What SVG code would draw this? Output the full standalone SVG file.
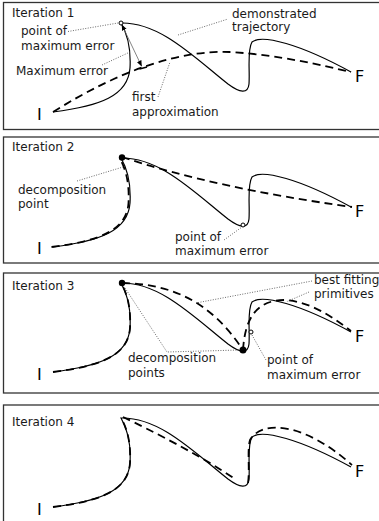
<svg xmlns="http://www.w3.org/2000/svg" width="379" height="521" viewBox="0 0 379 521">
<style>
.box{fill:#fff;stroke:#333;stroke-width:1.3}
.traj{fill:none;stroke:#000;stroke-width:1.2}
.dash{fill:none;stroke:#000;stroke-width:1.8;stroke-dasharray:8 5}
.lead{fill:none;stroke:#444;stroke-width:0.8;stroke-dasharray:1 1.5}
.lbl{font-family:"DejaVu Sans",sans-serif;font-size:12px;fill:#1a1a1a}
.big{font-family:"DejaVu Sans",sans-serif;font-size:16px;fill:#000}
</style>
<defs>
<path id="T" d="M53,112 C100,106 128,96 130,68 C131,50 128,35 121,23 C160,22 195,58 228,84 C240,93 248,94 249,84 C250,70 247,50 252,42 C262,34 300,44 351,72"/>
<path id="Tleft" d="M53,112 C100,106 128,96 130,68 C131,50 128,35 121,23"/>
<marker id="ah" viewBox="0 0 10 10" refX="9" refY="5" markerWidth="6" markerHeight="6" orient="auto-start-reverse" markerUnits="userSpaceOnUse">
<path d="M0,1 L10,5 L0,9 z" fill="#000"/>
</marker>
</defs>
<rect width="379" height="521" fill="#fff"/>

<g id="panel1">
<rect class="box" x="3.5" y="2.5" width="380" height="127"/>
<text class="lbl" x="12" y="17">Iteration 1</text>
<use href="#T" class="traj"/>
<path class="dash" d="M53,112 C120,70 180,50 230,52 C280,55 320,65 351,72"/>
<circle cx="121" cy="23" r="2" fill="#fff" stroke="#000" stroke-width="1"/>
<text class="lbl" x="21" y="35">point of</text>
<text class="lbl" x="21" y="50">maximum error</text>
<text class="lbl" x="16" y="75">Maximum error</text>
<text class="lbl" x="132" y="101">first</text>
<text class="lbl" x="132" y="116">approximation</text>
<text class="lbl" x="232" y="18">demonstrated</text>
<text class="lbl" x="232" y="31">trajectory</text>
<text class="big" x="37" y="120">I</text>
<text class="big" x="355" y="82">F</text>
</g>

<g id="panel2">
<rect class="box" x="3.5" y="137" width="380" height="126"/>
<text class="lbl" x="12" y="151">Iteration 2</text>
<g transform="translate(0,135)">
<use href="#T" class="traj"/>
<use href="#Tleft" class="dash" transform="translate(-1.5,0)"/>
<path class="dash" d="M122,22 Q215,53 352,72"/>
<circle cx="122" cy="22.5" r="3.2" fill="#000"/>
<circle cx="243" cy="90" r="2" fill="#fff" stroke="#000" stroke-width="1"/>
</g>
<text class="lbl" x="18" y="194">decomposition</text>
<text class="lbl" x="18" y="208">point</text>
<text class="lbl" x="175" y="241">point of</text>
<text class="lbl" x="175" y="255">maximum error</text>
<text class="big" x="37" y="254">I</text>
<text class="big" x="355" y="217">F</text>
</g>

<g id="panel3">
<rect class="box" x="3.5" y="273" width="380" height="120"/>
<text class="lbl" x="12" y="290">Iteration 3</text>
<g transform="translate(0,260)">
<use href="#T" class="traj"/>
<use href="#Tleft" class="dash"/>
<path class="dash" d="M122,23 C170,24 210,40 243,90"/>
<path class="dash" d="M243,90 C245,60 255,40 285,40 C310,42 330,55 351,71"/>
<circle cx="122" cy="23" r="3.2" fill="#000"/>
<circle cx="243" cy="90" r="3.5" fill="#000"/>
<circle cx="251" cy="72" r="2" fill="#fff" stroke="#000" stroke-width="1"/>
</g>
<text class="lbl" x="314" y="284">best fitting</text>
<text class="lbl" x="314" y="298">primitives</text>
<text class="lbl" x="128" y="362">decomposition</text>
<text class="lbl" x="128" y="377">points</text>
<text class="lbl" x="267" y="364">point of</text>
<text class="lbl" x="267" y="379">maximum error</text>
<text class="big" x="37" y="380">I</text>
<text class="big" x="355" y="342">F</text>
</g>

<g id="panel4">
<rect class="box" x="3.5" y="405" width="380" height="130"/>
<text class="lbl" x="12" y="426">Iteration 4</text>
<g transform="translate(0,395)">
<use href="#T" class="traj"/>
<use href="#Tleft" class="dash"/>
<path class="dash" d="M123,22 C150,35 200,60 235,84"/>
<path class="dash" d="M248,88 C250,75 247,55 250,45 C262,24 305,28 352,70"/>
</g>
<text class="big" x="37" y="515">I</text>
<text class="big" x="355" y="477">F</text>
</g>

<g id="connectors">
<line x1="122" y1="25" x2="141.5" y2="66" stroke="#666" stroke-width="0.8" marker-start="url(#ah)" marker-end="url(#ah)"/>
<line x1="139.5" y1="69" x2="147" y2="67" stroke="#000" stroke-width="1.5"/>
<path class="lead" d="M68,31.5 L118,23"/>
<path class="lead" d="M102,65 L130,52"/>
<path class="lead" d="M158,97 L170,62"/>
<path class="lead" d="M178,35 L228,19"/>
<path class="lead" d="M77,181 L123,167"/>
<path class="lead" d="M224,240 L242,227"/>
<path class="lead" d="M312,281 L196,303"/>
<path class="lead" d="M309,292 L286,302"/>
<path class="lead" d="M125,288 L167,352 L240,350"/>
<path class="lead" d="M252,335 L266,360"/>
</g>
</svg>
